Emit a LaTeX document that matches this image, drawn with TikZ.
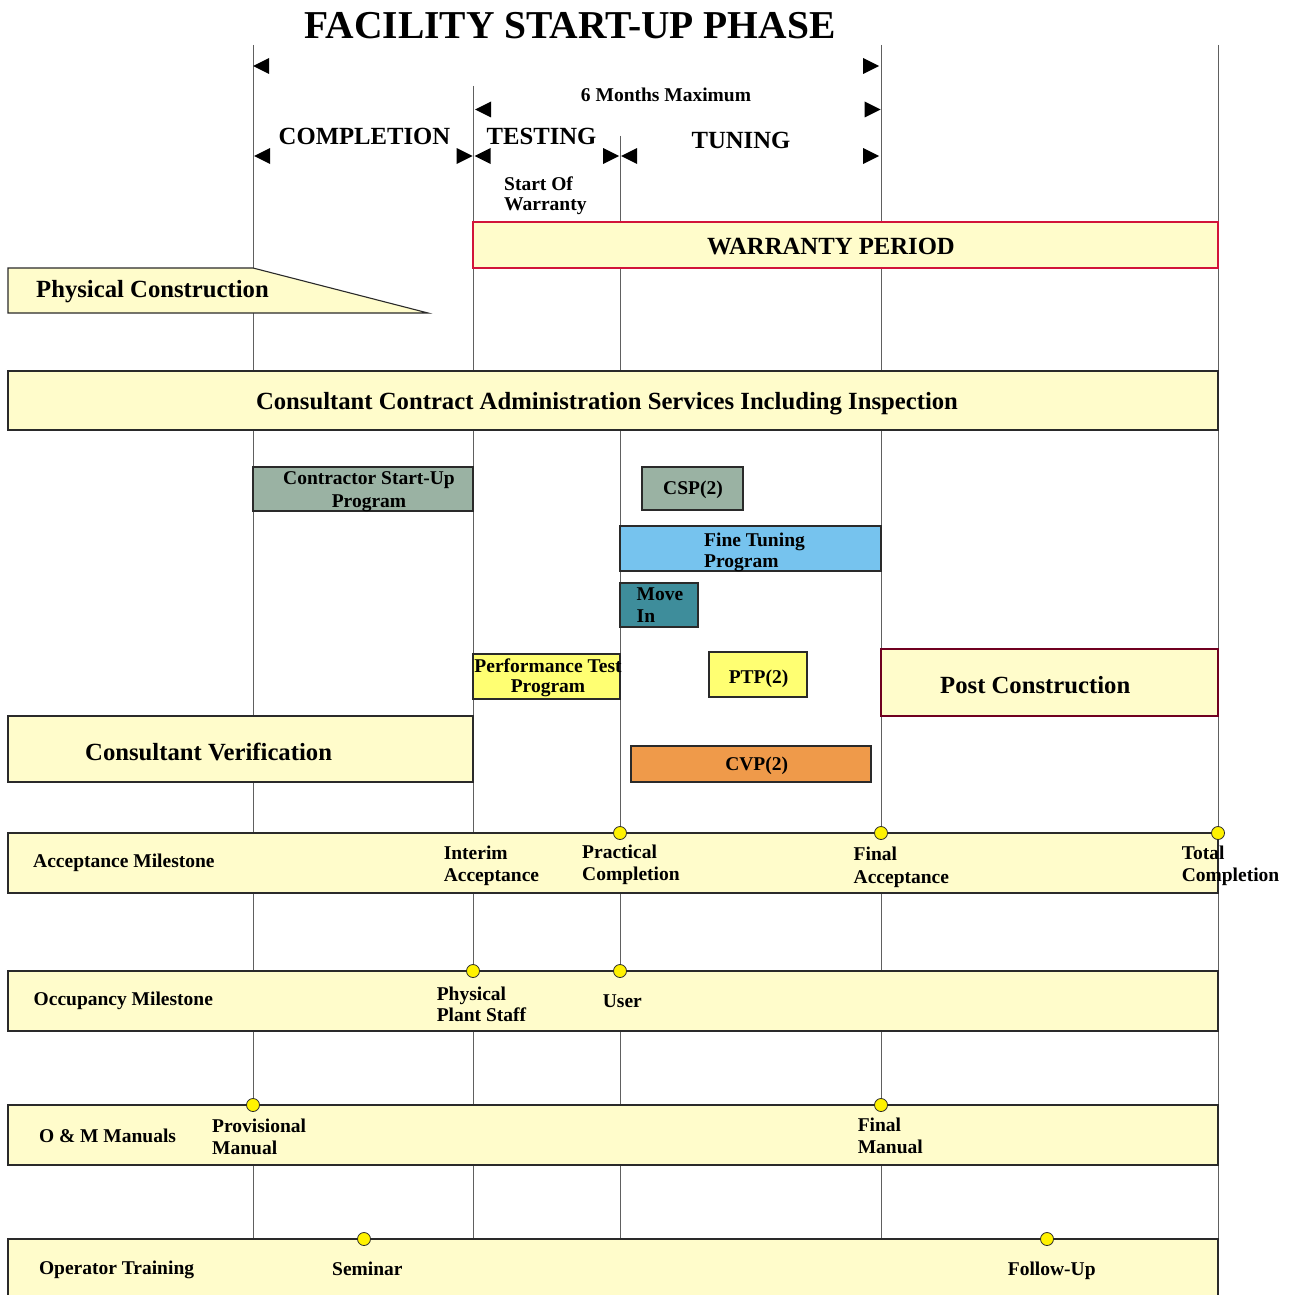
\documentclass[tikz,border=0pt]{standalone}
\usepackage{fontspec}
\setmainfont{Liberation Serif}
\definecolor{paleyel}{HTML}{FFFCCB}
\definecolor{sage}{HTML}{9AB2A3}
\definecolor{skyblue}{HTML}{76C3EE}
\definecolor{moveteal}{HTML}{3E8D9B}
\definecolor{lemon}{HTML}{FFFF72}
\definecolor{orangebox}{HTML}{EF9A4A}
\definecolor{warred}{HTML}{D2143A}
\definecolor{maroonline}{HTML}{700020}
\definecolor{linegray}{HTML}{606060}
\definecolor{edgegray}{HTML}{2A2A2A}
\definecolor{dotyel}{HTML}{FFF200}
\newcommand{\fbig}{\fontsize{24.7}{27}\selectfont\bfseries}
\newcommand{\fsmall}{\fontsize{19.5}{22}\selectfont\bfseries}
\begin{document}
\begin{tikzpicture}[x=1pt, y=-1pt,
		  vline/.style={draw=linegray, line width=1pt},
		  bar/.style={draw=edgegray, line width=1.1pt, fill=paleyel},
		  big/.style={font=\fbig, inner sep=0pt},
		  small/.style={font=\fsmall, inner sep=0pt, align=left},
		  milestone/.style={circle, draw=edgegray, fill=dotyel, inner sep=0pt, minimum size=13pt, line width=0.8pt}]
		  \fill[white] (0,0) rectangle (1293,1295);
		  \useasboundingbox (0,0) rectangle (1293,1295);
		  % phase lines
		  \foreach \x/\top in {253/45, 473/86, 620/136, 881/45, 1218/45}{
		      \draw[vline] (\x,\top) -- (\x,1240);
		  }
		  % dimension tips
		  \foreach \x/\y in {253/66, 475/109.5, 254/156, 474.5/156, 621/156}{
		      \fill (\x,\y) -- ++(16,-8) -- ++(0,16) -- cycle;
		  }
		  \foreach \x/\y in {879/66, 880.5/109.5, 472.5/156, 619/156, 879/156}{
		      \fill (\x,\y) -- ++(-16,-8) -- ++(0,16) -- cycle;
		  }
		  \node[font=\fontsize{39.5}{42}\selectfont\bfseries, inner sep=0pt, anchor=base] (title) at (570,39) {FACILITY START-UP PHASE};
		  \node[big, anchor=base] (completion) at (364.5,144) {COMPLETION};
		  \node[big, anchor=base] (testing) at (541.5,144) {TESTING};
		  \node[big, anchor=base] (tuning) at (741,148) {TUNING};
		  \node[small, anchor=base] (sixmonths) at (666,102) {6 Months Maximum};
		  \node[small, anchor=base west] (warrstart) at (504,210) {Start Of\\[-2pt]Warranty};
		  % bars and programs
		  \draw[bar, draw=warred] (473,222) rectangle (1218,268);
		  \node[big, anchor=base] (warranty) at (831,254) {WARRANTY PERIOD};
		  \draw[bar] (8,268) -- (253,268) -- (428,313) -- (8,313) -- cycle;
		  \node[big, anchor=base west] (physical) at (36,297) {Physical Construction};
		  \draw[bar] (8,371) rectangle (1218,430);
		  \node[big, anchor=base] (consult) at (607,409) {Consultant Contract Administration Services Including Inspection};
		  \draw[bar, fill=sage] (253,467) rectangle (473,511);
		  \node[small, anchor=base, align=center] (startup) at (369,507) {Contractor Start-Up\\[1pt]Program};
		  \draw[bar, fill=sage] (642,467) rectangle (743,510);
		  \node[small, anchor=base] (csp) at (693,494) {CSP(2)};
		  \draw[bar, fill=skyblue] (620,526) rectangle (881,571);
		  \node[small, anchor=base west] (finetune) at (704,567) {Fine Tuning\\[-1pt]Program};
		  \draw[bar, fill=moveteal] (620,583) rectangle (698,627);
		  \node[small, anchor=base west] (movein) at (636.5,622) {Move\\In};
		  \draw[bar, fill=lemon] (473,654) rectangle (620,699);
		  \node[small, anchor=base, align=center] (perftest) at (548,692) {Performance Test\\[-2pt]Program};
		  \draw[bar, fill=lemon] (709,652) rectangle (807,697);
		  \node[small, anchor=base] (ptp) at (758.6,683) {PTP(2)};
		  \draw[bar, draw=maroonline] (881,649) rectangle (1218,716);
		  \node[big, anchor=base west] (postcon) at (940,693) {Post Construction};
		  \draw[bar] (8,716) rectangle (473,782);
		  \node[big, anchor=base west] (verif) at (85,760) {Consultant Verification};
		  \draw[bar, fill=orangebox] (631,746) rectangle (871,782);
		  \node[small, anchor=base] (cvp) at (756.7,770) {CVP(2)};
		  % milestone rows
		  \foreach \top in {833, 971, 1105}{
		      \draw[bar] (8,\top) rectangle (1218,\top+60);
		  }
		  \draw[bar] (8,1239) rectangle (1218,1310);
		  \node[small, anchor=base west] (accept) at (33,867) {Acceptance Milestone};
		  \node[small, anchor=base west] (interim) at (443.6,881.7) {Interim\\Acceptance};
		  \node[small, anchor=base west] (practical) at (582,880.7) {Practical\\Completion};
		  \node[small, anchor=base west] (finalacc) at (853.5,883) {Final\\[1pt]Acceptance};
		  \node[small, anchor=base west] (total) at (1181.6,881.7) {Total\\Completion};
		  \node[small, anchor=base west] (occupancy) at (33.5,1005) {Occupancy Milestone};
		  \node[small, anchor=base west] (plant) at (436.6,1021.7) {Physical\\[-1pt]Plant Staff};
		  \node[small, anchor=base west] (user) at (602.7,1007.7) {User};
		  \node[small, anchor=base west] (manuals) at (38.8,1142) {O \& M Manuals};
		  \node[small, anchor=base west] (provis) at (212,1154) {Provisional\\Manual};
		  \node[small, anchor=base west] (finalman) at (857.6,1153) {Final\\Manual};
		  \node[small, anchor=base west] (training) at (38.8,1274) {Operator Training};
		  \node[small, anchor=base west] (seminar) at (332,1275.7) {Seminar};
		  \node[small, anchor=base west] (followup) at (1007.7,1275) {Follow-Up};
		  \foreach \x/\y/\n in {620/833/practdot, 881/833/finaldot, 1218/833/totaldot,
		      473/971/plantdot, 620/971/userdot, 253/1105/provdot, 881/1105/mandot,
		      364/1239/semdot, 1047/1239/followdot}{
		      \node[milestone] (\n) at (\x,\y) {};
		  }
\end{tikzpicture}
\end{document}
